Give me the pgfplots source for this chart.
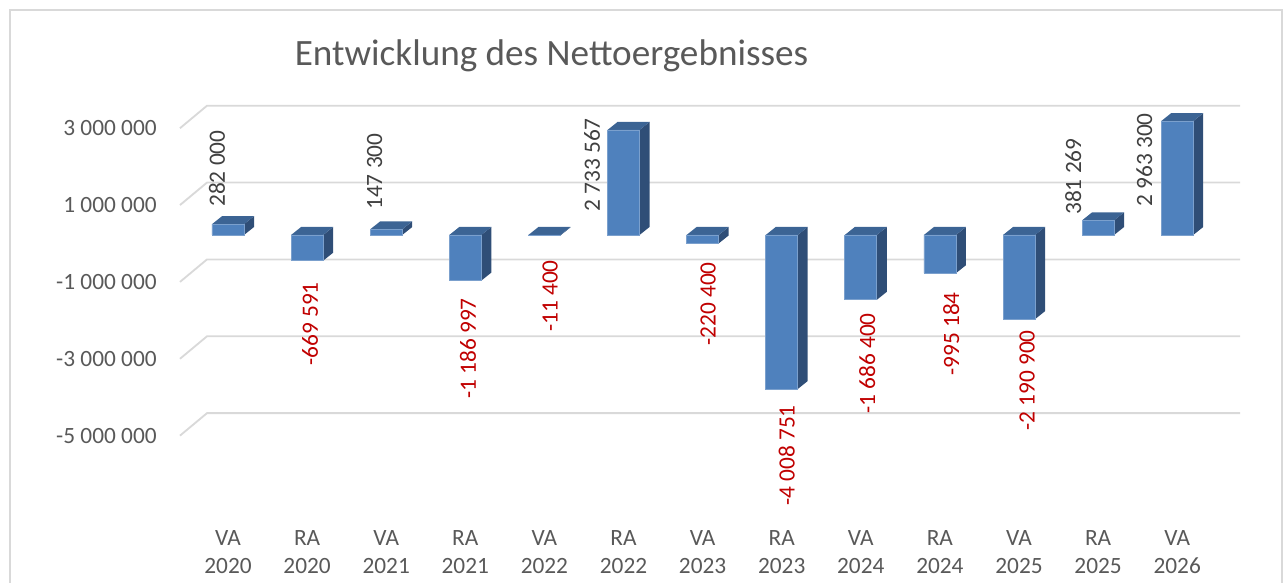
\documentclass[border=0pt]{standalone}
\usepackage{pgfplots}
\pgfplotsset{compat=1.18}
\usepackage{pgfplotstable}
\usepackage{fontspec}
\setmainfont{Carlito}
\definecolor{barfront}{HTML}{4F81BD}
\definecolor{bartop}{HTML}{3C6494}
\definecolor{barside}{HTML}{2F4E77}
\definecolor{gridc}{HTML}{D9D9D9}
\definecolor{axgray}{HTML}{595959}
\definecolor{poslab}{HTML}{404040}
\definecolor{neglab}{HTML}{C00000}
\definecolor{framegray}{HTML}{D9D9D9}

\pgfplotstableread{
x y
0 282000
1 -669591
2 147300
3 -1186997
4 -11400
5 2733567
6 -220400
7 -4008751
8 -1686400
9 -995184
10 -2190900
11 381269
12 2963300
}\netdata

\newcommand\cubefaces[1]{%
  \pgfplotstablegetelem{#1}{y}\of\netdata
  \let\cubev\pgfplotsretval
  \pgfkeys{/pgf/fpu=true,/pgf/fpu/output format=fixed}%
  \pgfmathsetmacro\cxa{#1-0.2023}%
  \pgfmathsetmacro\cxb{#1+0.2023}%
  \pgfmathsetmacro\cxc{#1+0.2023+0.1265}%
  \pgfmathsetmacro\cxd{#1-0.2023+0.1265}%
  \pgfmathsetmacro\cyt{max(\cubev,0)}%
  \pgfmathsetmacro\cytb{max(\cubev,0)+208168}%
  \pgfmathsetmacro\cyv{\cubev+208168}%
  \pgfkeys{/pgf/fpu=false}%
  \edef\cubetemp{%
    \noexpand\addplot[fill=barside, draw=none] coordinates {(\cxb,0) (\cxb,\cubev) (\cxc,\cyv) (\cxc,208168)} --cycle;
    \noexpand\addplot[fill=bartop, draw=none] coordinates {(\cxa,\cyt) (\cxb,\cyt) (\cxc,\cytb) (\cxd,\cytb)} --cycle;
  }%
  \cubetemp
}

\begin{document}
\begin{tikzpicture}
\useasboundingbox (0pt,0pt) rectangle (771pt,349.8pt);
\draw[framegray, line width=0.7pt] (6pt,-10pt) -- (6pt,343.8pt) -- (769.2pt,343.8pt) -- (769.2pt,-10pt);
\node[anchor=base, text=axgray, font=\fontsize{22.3}{26}\selectfont, inner sep=0pt] at (330.9pt,310.2pt) {Entwicklung des Nettoergebnisses};
\begin{axis}[
  at={(124.2pt,79.8pt)}, anchor=south west,
  scale only axis, width=619.8pt, height=210pt,
  xmin=-0.26549, xmax=12.7939,
  ymin=-5594515, ymax=3512835,
  clip=false,
  axis line style={draw=none},
  major tick length=0pt,
  scaled y ticks=false,
  no markers,
  xtick={0,...,12},
  xticklabels={{VA\\2020},{RA\\2020},{VA\\2021},{RA\\2021},{VA\\2022},{RA\\2022},{VA\\2023},{RA\\2023},{VA\\2024},{RA\\2024},{VA\\2025},{RA\\2025},{VA\\2026}},
  xticklabel style={font=\fontsize{14}{16.8}\selectfont, text=axgray, align=center, anchor=north, inner sep=0pt, yshift=-48pt},
  ytick={2778821,778821,-1221179,-3221179,-5221179},
  yticklabels={3 000 000,1 000 000,-1 000 000,-3 000 000,-5 000 000},
  yticklabel style={font=\fontsize{14}{16.8}\selectfont, text=axgray, anchor=east, inner sep=0pt, xshift=-30pt},
]
% gridlines (front-left slant + back wall)
\draw[gridc, line width=1.1pt] (axis cs:-0.607,2778821) -- (axis cs:-0.26549,3364294) -- (axis cs:12.7939,3364294);
\draw[gridc, line width=1.1pt] (axis cs:-0.607,778821) -- (axis cs:-0.26549,1364294) -- (axis cs:12.7939,1364294);
\draw[gridc, line width=1.1pt] (axis cs:-0.607,-1221179) -- (axis cs:-0.26549,-635706) -- (axis cs:12.7939,-635706);
\draw[gridc, line width=1.1pt] (axis cs:-0.607,-3221179) -- (axis cs:-0.26549,-2635706) -- (axis cs:12.7939,-2635706);
\draw[gridc, line width=1.1pt] (axis cs:-0.607,-5221179) -- (axis cs:-0.26549,-4635706) -- (axis cs:12.7939,-4635706);
% 3D faces
\pgfplotsinvokeforeach{0,...,12}{\cubefaces{#1}}
% front faces
\addplot[ybar, bar width=0.4046, fill=barfront, draw=barfront!75!white, line width=0.4pt] table[x=x,y=y]{\netdata};
% data labels
\tikzset{lab/.style={rotate=90, inner sep=0pt, font=\fontsize{14}{16.8}\selectfont}}
\node[lab, text=poslab, anchor=west] at (axis cs:-0.139,728588) {282 000};
\node[lab, text=poslab, anchor=west] at (axis cs:1.8525,650525) {147 300};
\node[lab, text=poslab, anchor=west] at (axis cs:4.603,598483) {2 733 567};
\node[lab, text=poslab, anchor=west] at (axis cs:10.685,520420) {381 269};
\node[lab, text=poslab, anchor=west] at (axis cs:11.583,728588) {2 963 300};
\node[lab, text=neglab, anchor=east] at (axis cs:1.037,-1222987) {-669 591};
\node[lab, text=neglab, anchor=east] at (axis cs:3.035,-1639323) {-1 186 997};
\node[lab, text=neglab, anchor=east] at (axis cs:4.072,-650525) {-11 400};
\node[lab, text=neglab, anchor=east] at (axis cs:6.070,-702567) {-220 400};
\node[lab, text=neglab, anchor=east] at (axis cs:7.063,-4423570) {-4 008 751};
\node[lab, text=neglab, anchor=east] at (axis cs:8.080,-2029638) {-1 686 400};
\node[lab, text=neglab, anchor=east] at (axis cs:9.143,-1483197) {-995 184};
\node[lab, text=neglab, anchor=east] at (axis cs:10.104,-2471995) {-2 190 900};
\end{axis}
\end{tikzpicture}
\end{document}
